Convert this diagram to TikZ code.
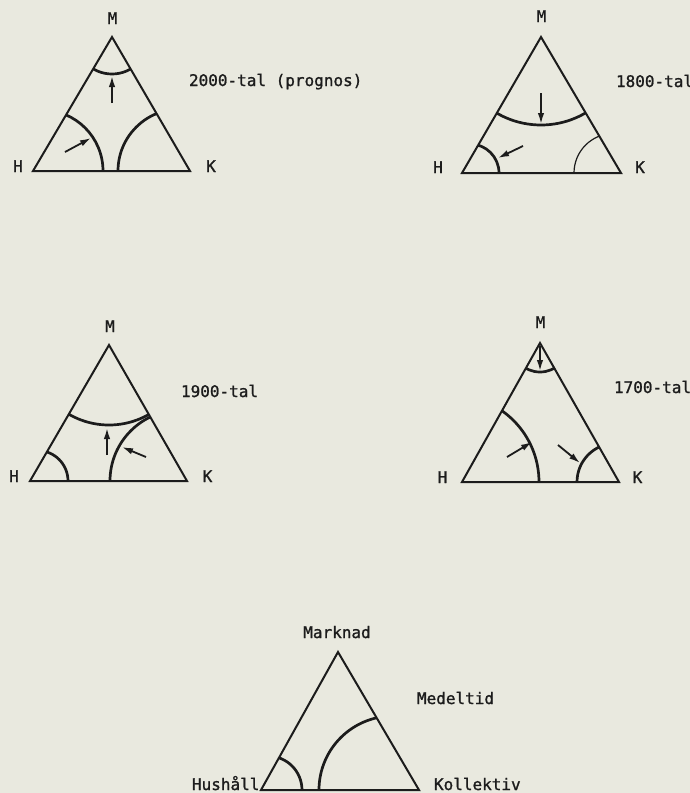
\documentclass[tikz,border=0pt]{standalone}
\usepackage{fontspec}
\newfontfamily\lgothic[FakeBold=1.2]{DejaVu Sans Mono}
\usetikzlibrary{arrows.meta}
\definecolor{paper}{RGB}{233,233,223}
\definecolor{ink}{RGB}{28,28,28}
\begin{document}
\begin{tikzpicture}[x=1pt,y=-1pt,
  side/.style={draw=ink, line width=2pt, line join=miter},
  bow/.style={draw=ink, line width=2.7pt},
  thinbow/.style={draw=ink, line width=1.2pt},
  pointer/.style={draw=ink, line width=1.8pt, -{Latex[length=11pt,width=6.5pt]}},
  lbl/.style={inner sep=0pt, outer sep=0pt, text=ink, font=\lgothic\fontsize{16}{18}\selectfont, anchor=base}]
\fill[paper] (0,0) rectangle (690,793);
\useasboundingbox (0,0) rectangle (690,793);

% ---------- 2000-tal (prognos) ----------
\coordinate (H1) at (33,171); \coordinate (K1) at (190,171); \coordinate (M1) at (112,37);
\begin{scope}
  \clip (H1) -- (K1) -- (M1) -- cycle;
  \draw[bow] (M1) circle[radius=37];
  \draw[bow] (42,171) circle[radius=61];
  \draw[bow] (180,171) circle[radius=62];
\end{scope}
\draw[side] (H1) -- (K1) -- (M1) -- cycle;
\coordinate (a1s) at (112,103); \coordinate (a1e) at (112,76);
\coordinate (a2s) at (65,152);  \coordinate (a2e) at (91,138);
\draw[pointer] (a1s) -- (a1e);
\draw[pointer] (a2s) -- (a2e);
\node[lbl] (m1) at (112.5,24) {M};
\node[lbl] (h1) at (18,172) {H};
\node[lbl] (k1) at (211,172) {K};
\node[lbl, anchor=base west] (t1) at (189,86) {2000-tal (prognos)};

% ---------- 1800-tal ----------
\coordinate (H2) at (462,173); \coordinate (K2) at (621,173); \coordinate (M2) at (541,37);
\begin{scope}
  \clip (H2) -- (K2) -- (M2) -- cycle;
  \draw[bow] (M2) circle[radius=88];
  \draw[bow] (470,173) circle[radius=29];
  \draw[thinbow] (613.5,173) circle[radius=39.5];
\end{scope}
\draw[side] (H2) -- (K2) -- (M2) -- cycle;
\coordinate (b1s) at (541,93);  \coordinate (b1e) at (541,124);
\coordinate (b2s) at (523,146); \coordinate (b2e) at (498,158);
\draw[pointer] (b1s) -- (b1e);
\draw[pointer] (b2s) -- (b2e);
\node[lbl] (m2) at (541.5,22) {M};
\node[lbl] (h2) at (438,173) {H};
\node[lbl] (k2) at (640,173) {K};
\node[lbl, anchor=base west] (t2) at (616,87) {1800-tal};

% ---------- 1900-tal ----------
\coordinate (H3) at (30,481); \coordinate (K3) at (187,481); \coordinate (M3) at (109,345);
\begin{scope}
  \clip (H3) -- (K3) -- (M3) -- cycle;
  \draw[bow] (M3) circle[radius=80];
  \draw[bow] (37.5,481) circle[radius=30.5];
  \draw[bow] (181,481) circle[radius=71];
\end{scope}
\draw[side] (H3) -- (K3) -- (M3) -- cycle;
\coordinate (c1s) at (107,455); \coordinate (c1e) at (107,428);
\coordinate (c2s) at (146,457); \coordinate (c2e) at (122,447);
\draw[pointer] (c1s) -- (c1e);
\draw[pointer] (c2s) -- (c2e);
\node[lbl] (m3) at (110,332) {M};
\node[lbl] (h3) at (14,482) {H};
\node[lbl] (k3) at (207.5,482) {K};
\node[lbl, anchor=base west] (t3) at (181,397) {1900-tal};

% ---------- 1700-tal ----------
\coordinate (H4) at (462,482); \coordinate (K4) at (619,482); \coordinate (M4) at (540,343);
\begin{scope}
  \clip (H4) -- (K4) -- (M4) -- cycle;
  \draw[bow] (M4) circle[radius=29];
  \draw[bow] (452,482) circle[radius=87];
  \draw[bow] (615.7,482) circle[radius=38.7];
\end{scope}
\draw[side] (H4) -- (K4) -- (M4) -- cycle;
\coordinate (d1s) at (540,346); \coordinate (d1e) at (540,371);
\coordinate (d2s) at (507,457); \coordinate (d2e) at (532,442);
\coordinate (d3s) at (558,445); \coordinate (d3e) at (580,463);
\draw[pointer] (d1s) -- (d1e);
\draw[pointer] (d2s) -- (d2e);
\draw[pointer] (d3s) -- (d3e);
\node[lbl] (m4) at (540.5,328) {M};
\node[lbl] (h4) at (442.5,483) {H};
\node[lbl] (k4) at (637.5,483) {K};
\node[lbl, anchor=base west] (t4) at (614,393) {1700-tal};

% ---------- Medeltid ----------
\coordinate (H5) at (261,790); \coordinate (K5) at (419,790); \coordinate (M5) at (338,652);
\begin{scope}
  \clip (H5) -- (K5) -- (M5) -- cycle;
  \draw[bow] (268,790) circle[radius=34];
  \draw[bow] (393,790) circle[radius=74];
\end{scope}
\draw[side] (H5) -- (K5) -- (M5) -- cycle;
\node[lbl] (m5) at (337,638) {Marknad};
\node[lbl, anchor=base west] (t5) at (417,704) {Medeltid};
\node[lbl, anchor=base west] (h5) at (192,790) {Hushåll};
\node[lbl, anchor=base west] (k5) at (434,790) {Kollektiv};
\end{tikzpicture}
\end{document}
